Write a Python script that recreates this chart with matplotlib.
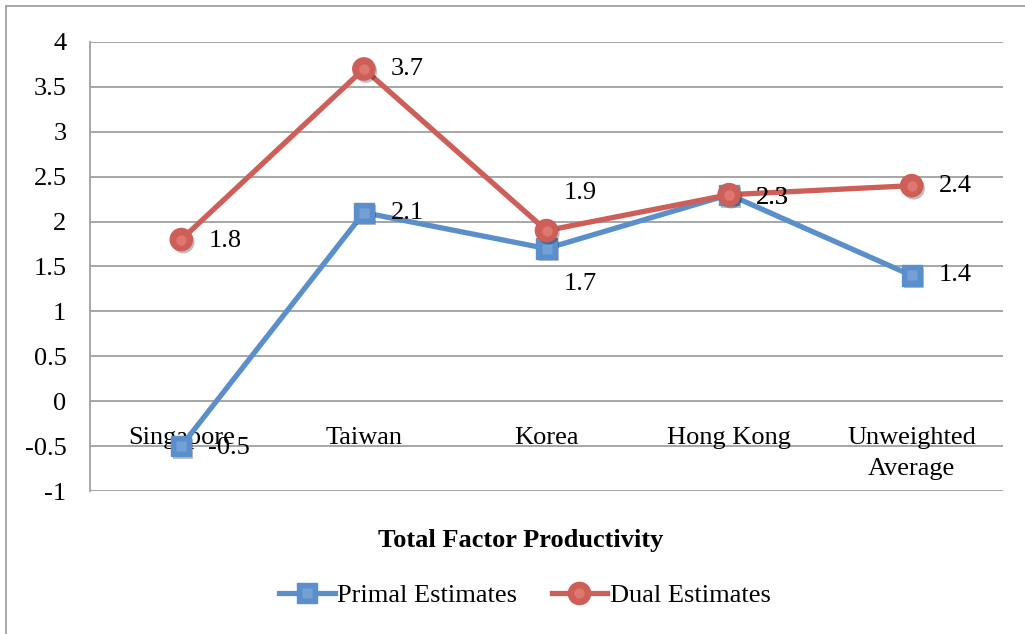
import matplotlib
matplotlib.use("Agg")
import matplotlib.pyplot as plt
from matplotlib.lines import Line2D
from matplotlib.patches import Rectangle
from matplotlib.legend_handler import HandlerTuple
import matplotlib.patheffects as pe

plt.rcParams['font.family'] = ['Liberation Serif', 'DejaVu Serif']

# Data
categories = ["Singapore", "Taiwan", "Korea", "Hong Kong", "Unweighted\nAverage"]
primal = [-0.5, 2.1, 1.7, 2.3, 1.4]
dual = [1.8, 3.7, 1.9, 2.3, 2.4]
yticks = [-1, -0.5, 0, 0.5, 1, 1.5, 2, 2.5, 3, 3.5, 4]
ytick_labels = ["-1", "-0.5", "0", "0.5", "1", "1.5", "2", "2.5", "3", "3.5", "4"]

# Label offsets (pixels) for each point's value label
primal_offsets = [(27, -2), (27, 0), (34, -35), (27, -3), (27, 0)]
dual_offsets = [(27, -1), (27, 0), (34, 38), (27, -3), (27, 0)]

FS = 19
BLUE = "#5B8FCB"
BLUE_LIGHT = "#86ADDE"
RED = "#CD5E58"
RED_LIGHT = "#EC8882"
GRID = "#A6A6A6"

fig = plt.figure(figsize=(10.25, 6.34), dpi=100)
ax = fig.add_axes([90 / 1025, 1 - 491 / 634, (1003 - 90) / 1025, (491 - 42) / 634])

x = list(range(len(categories)))

ax.set_xlim(-0.5, len(categories) - 0.5)
ax.set_ylim(-1, 4)
ax.set_yticks(yticks)
ax.set_yticklabels(ytick_labels, fontsize=FS)
ax.set_xticks([])
ax.tick_params(axis='y', length=0, pad=17)
for y in yticks:
    ax.axhline(y, color=GRID, lw=1.4, zorder=1)
for side in ["top", "right", "bottom"]:
    ax.spines[side].set_visible(False)
ax.spines["left"].set_color(GRID)
ax.spines["left"].set_linewidth(1.4)

shadow = [pe.SimplePatchShadow(offset=(1.5, -2), shadow_rgbFace="black", alpha=0.25), pe.Normal()]

# Primal series
ax.plot(x, primal, color=BLUE, lw=3.8, zorder=3, solid_capstyle='round')
ax.plot(x, primal, ls='none', marker='s', ms=14.5, mfc=BLUE, mec=BLUE, zorder=4,
        path_effects=shadow)
ax.plot(x, primal, ls='none', marker='s', ms=7, mfc=BLUE_LIGHT, mec='none', alpha=0.6, zorder=4)

# Dual series
ax.plot(x, dual, color=RED, lw=3.8, zorder=5, solid_capstyle='round')
ax.plot(x, dual, ls='none', marker='o', ms=16, mfc=RED, mec=RED, zorder=6,
        path_effects=shadow)
ax.plot(x, dual, ls='none', marker='o', ms=7.5, mfc=RED_LIGHT, mec='none', alpha=0.6, zorder=6)

# Value labels
for xi, v, off in zip(x, primal, primal_offsets):
    ax.annotate(f"{v:g}", (xi, v), xytext=off, textcoords='offset pixels',
                ha='left' if off[0] < 30 else 'center', va='center', fontsize=FS, zorder=8)
for xi, v, off in zip(x, dual, dual_offsets):
    ax.annotate(f"{v:g}", (xi, v), xytext=off, textcoords='offset pixels',
                ha='left' if off[0] < 30 else 'center', va='center', fontsize=FS, zorder=8)

# Category labels beneath the zero line
for xi, c in zip(x, categories):
    ax.annotate(c, (xi, 0), xytext=(0, -26), textcoords='offset pixels',
                ha='center', va='top', fontsize=FS, linespacing=1.5, zorder=2)

# Title under the plot
fig.text(521 / 1025, 1 - 540 / 634, "Total Factor Productivity", ha='center', va='center',
         fontsize=FS, fontweight='bold')

# Legend
h_primal = (Line2D([], [], color=BLUE, lw=3.8, marker='s', ms=14.5, mfc=BLUE, mec=BLUE),
            Line2D([], [], ls='none', marker='s', ms=7, mfc=BLUE_LIGHT, mec='none', alpha=0.6))
h_dual = (Line2D([], [], color=RED, lw=3.8, marker='o', ms=16, mfc=RED, mec=RED),
          Line2D([], [], ls='none', marker='o', ms=7.5, mfc=RED_LIGHT, mec='none', alpha=0.6))
fig.legend([h_primal, h_dual], ["Primal Estimates", "Dual Estimates"],
           handler_map={tuple: HandlerTuple(ndivide=1, pad=0)},
           loc='center', bbox_to_anchor=(525 / 1025, 1 - 595 / 634), ncol=2,
           frameon=False, fontsize=FS, handlelength=2.1, handletextpad=0.1,
           columnspacing=1.3)

# Outer chart border
fig.patches.append(Rectangle((6 / 1025, -0.05), 1.1, 1 - 6 / 634 + 0.05,
                             transform=fig.transFigure, fill=False,
                             edgecolor=GRID, lw=1.4))

fig.savefig("out.png", dpi=100)
